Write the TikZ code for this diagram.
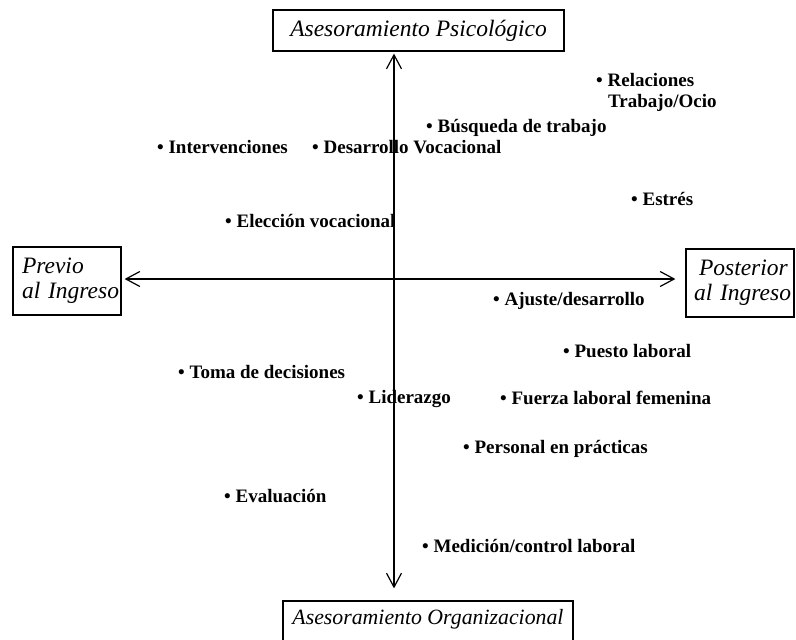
\documentclass[tikz,border=0pt]{standalone}
\usepackage{fontspec}
\setmainfont{Liberation Serif}
\usetikzlibrary{arrows.meta}
\tikzset{
  lbl/.style={draw, line width=1.2pt, inner sep=0pt, font=\fontsize{23.5}{25}\selectfont\itshape},
  itm/.style={anchor=base west, inner sep=0pt, font=\fontsize{19}{21}\selectfont\bfseries},
  barb/.tip={Straight Barb[length=14pt,width=15pt,line width=1.2pt]},
  axis/.style={line width=1.2pt, barb-barb}
}
\begin{document}
\begin{tikzpicture}[x=1pt,y=-1pt]
\clip (0,0) rectangle (796,640);
\node[lbl, minimum width=291pt, minimum height=41pt] (T) at (418.5,30.5) {Asesoramiento Psicológico};
\node[lbl, minimum width=290pt, text height=23pt, text depth=22pt, font=\fontsize{21.8}{21}\selectfont\itshape] (B) at (428,623.5) {Asesoramiento Organizacional};
\node[lbl, minimum width=108pt, minimum height=68pt, text width=90pt, align=left] (L) at (67,281) {\mbox{Previo}\\\mbox{al Ingreso}};
\node[lbl, minimum width=108pt, minimum height=68pt, text width=92pt, align=left] (R) at (740,283) {\mbox{\hspace*{5pt}Posterior}\\\mbox{al Ingreso}};
\coordinate (O) at (394,279);
\draw[axis, shorten <=3pt, shorten >=10pt] (O -| L.east) -- (O -| R.west);
\draw[axis, shorten <=2pt, shorten >=12pt] (O |- T.south) -- (O |- B.north);
% items
\node[itm] (int) at (157,153) {\textbullet\ Intervenciones};
\node[itm] (dv) at (312,153) {\textbullet\ Desarrollo Vocacional};
\node[itm] (ev) at (225,227) {\textbullet\ Elección vocacional};
\node[itm] (bt) at (426,132) {\textbullet\ Búsqueda de trabajo};
\node[itm] (rel) at (596,86) {\textbullet\ Relaciones};
\node[itm] (rel2) at (608,107) {Trabajo/Ocio};
\node[itm] (est) at (631,205) {\textbullet\ Estrés};
\node[itm] (aj) at (493,305) {\textbullet\ Ajuste/desarrollo};
\node[itm] (pu) at (563,357) {\textbullet\ Puesto laboral};
\node[itm] (fu) at (500,404) {\textbullet\ Fuerza laboral femenina};
\node[itm] (pe) at (463,453) {\textbullet\ Personal en prácticas};
\node[itm] (to) at (178,378) {\textbullet\ Toma de decisiones};
\node[itm] (li) at (357,403) {\textbullet\ Liderazgo};
\node[itm] (eva) at (224,502) {\textbullet\ Evaluación};
\node[itm] (me) at (422,552) {\textbullet\ Medición/control laboral};
\end{tikzpicture}
\end{document}
